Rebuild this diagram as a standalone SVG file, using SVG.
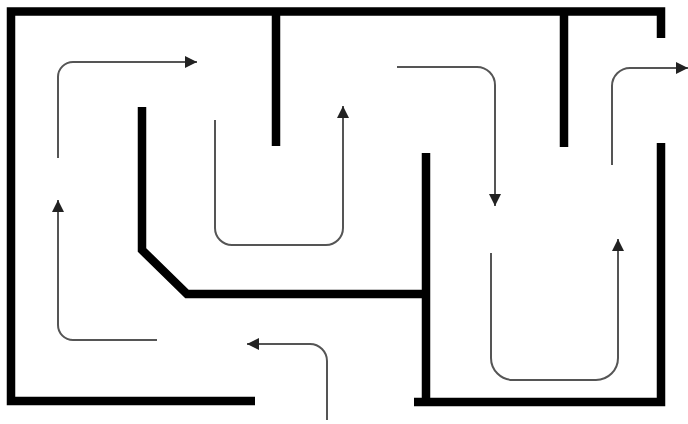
<svg xmlns="http://www.w3.org/2000/svg" width="688" height="424" viewBox="0 0 688 424">
  <defs>
    <style>
      .wall { fill: none; stroke: #000; stroke-width: 8.5; stroke-linejoin: miter; stroke-linecap: butt; }
      .path { fill: none; stroke: #555; stroke-width: 2; marker-end: url(#head); }
    </style>
    <marker id="head" markerUnits="userSpaceOnUse" markerWidth="14" markerHeight="14" viewBox="0 0 14 14" refX="12" refY="7" orient="auto">
      <path d="M0,1 L12,7 L0,13 Z" fill="#222"/>
    </marker>
  </defs>
  <rect width="688" height="424" fill="#fff"/>
  <g id="walls">
    <polyline class="wall" points="255,401 11,401 11,11.5 661,11.5 661,38"/>
    <polyline class="wall" points="276,11.5 276,146"/>
    <polyline class="wall" points="564,11.5 564,147"/>
    <polyline class="wall" points="661,143 661,402 414,402"/>
    <polyline class="wall" points="426,153 426,402"/>
    <polyline class="wall" points="142,107 142,250 187,294 426,294"/>
  </g>
  <g id="arrows">
    <path class="path" d="M58,158 V77 A15,15 0 0 1 73,62 H197"/>
    <path class="path" d="M157,340 H73 A15,15 0 0 1 58,325 V200"/>
    <path class="path" d="M327,420 V361 A17,17 0 0 0 310,344 H247"/>
    <path class="path" d="M215,120 V228 A17,17 0 0 0 232,245 H326 A17,17 0 0 0 343,228 V106"/>
    <path class="path" d="M397,67 H477 A18,18 0 0 1 495,85 V206"/>
    <path class="path" d="M612,165 V86 A18,18 0 0 1 630,68 H688"/>
    <path class="path" d="M491,253 V358 A22,22 0 0 0 513,380 H596 A22,22 0 0 0 618,358 V239"/>
  </g>
</svg>
